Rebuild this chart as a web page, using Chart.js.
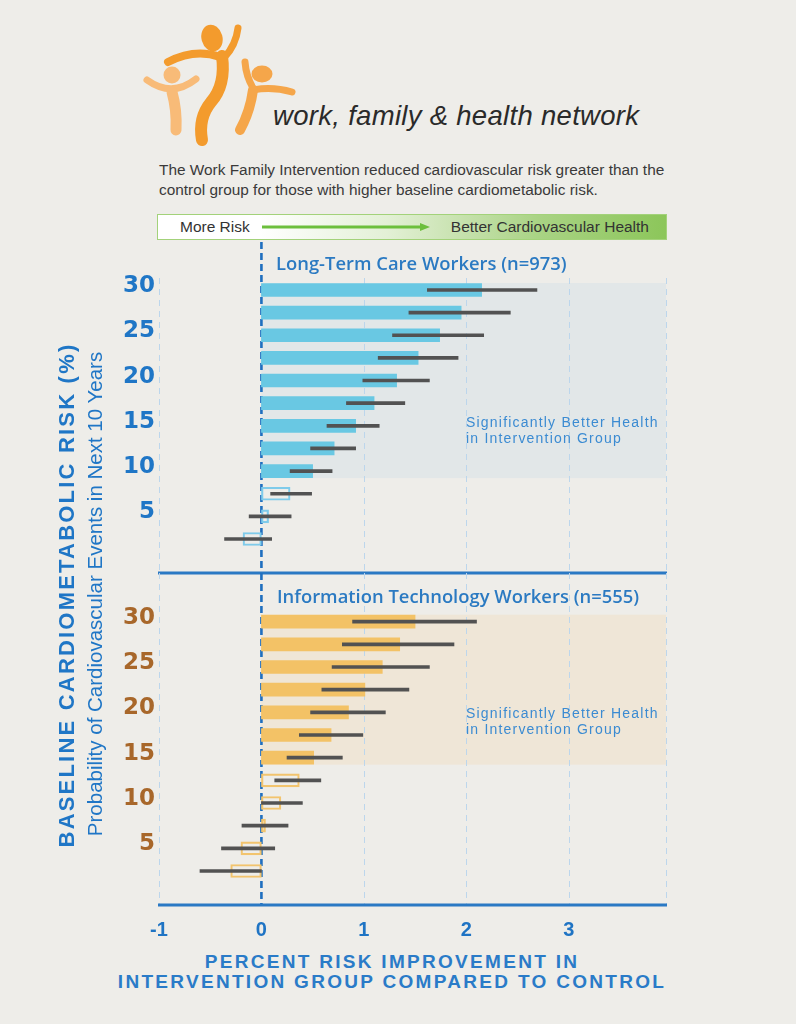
<!DOCTYPE html>
<html>
<head>
<meta charset="utf-8">
<script src="https://cdn.jsdelivr.net/npm/chart.js@4.4.1/dist/chart.umd.min.js"></script>
<style>
  html, body { margin: 0; padding: 0; }
  body { width: 796px; height: 1024px; background: #eeede9; position: relative; overflow: hidden;
         font-family: "Liberation Sans", Arial, sans-serif; }
  .abs { position: absolute; white-space: nowrap; }
  #topWrap { position: absolute; left: 0; top: 240px; width: 796px; height: 336px; }
  #botWrap { position: absolute; left: 0; top: 573px; width: 796px; height: 370px; }
  .brand { left: 273px; top: 100px; font-size: 27.5px; font-style: italic; color: #2a2a2a; letter-spacing: 0.3px; }
  .intro { left: 159px; top: 160px; font-size: 15.4px; line-height: 20px; color: #3a3a3a; }
  .arrowbox { left: 157px; top: 214px; width: 508px; height: 24px; border: 1.5px solid #a3d27a;
              background: linear-gradient(to right, #ffffff 0%, #ffffff 20%, #e3f0d6 45%, #a9d384 75%, #8cc65a 100%); }
  .arrowbox span { position: absolute; top: 3px; font-size: 15.5px; color: #333; }
  .panelTitle { font-family: "Open Sans", sans-serif; font-weight: 600; font-size: 18.4px; color: #2b7ac2; }
  .note { font-size: 14px; line-height: 16px; letter-spacing: 1.2px; color: #3b8bd2; }
  .ytitle { width: 600px; height: 24px; line-height: 24px; text-align: center; transform: rotate(-90deg);
            transform-origin: 50% 50%; color: #1f76c6; }
  .xtitle { left: 92px; width: 600px; top: 952px; text-align: center; font-weight: bold; font-size: 19px;
            line-height: 20px; letter-spacing: 2.3px; color: #2a7bc8; }
</style>
</head>
<body>

<svg class="abs" style="left:0;top:0" width="796" height="150">
  <!-- big figure -->
  <g fill="none" stroke="#f39b2d" stroke-linecap="round">
    <path d="M168 62 Q195 48 220 57" stroke-width="8"/>
    <path d="M224 58 Q236 45 238 28" stroke-width="7"/>
    <path d="M222 56 Q226 85 211 102 Q198 118 202 140" stroke-width="12"/>
  </g>
  <ellipse cx="212" cy="38" rx="10.5" ry="13.5" fill="#f39b2d" transform="rotate(-15 212 38)"/>
  <!-- left figure -->
  <g fill="none" stroke="#f8bb78" stroke-linecap="round">
    <path d="M147 80 Q172 98 196 79" stroke-width="7"/>
    <path d="M172 92 Q177 110 176 130" stroke-width="11"/>
  </g>
  <circle cx="172" cy="75" r="8.5" fill="#f8bb78"/>
  <!-- right figure -->
  <g fill="none" stroke="#f5a64a" stroke-linecap="round">
    <path d="M253 88 Q246 76 245 62" stroke-width="7"/>
    <path d="M253 90 Q272 86 292 92" stroke-width="7"/>
    <path d="M253 90 Q250 112 240 130" stroke-width="10"/>
  </g>
  <ellipse cx="262" cy="74" rx="10.5" ry="8.5" fill="#f5a64a"/>
</svg>

<div class="abs brand">work, family &amp; health network</div>
<div class="abs intro">The Work Family Intervention reduced cardiovascular risk greater than the<br>control group for those with higher baseline cardiometabolic risk.</div>

<div class="abs arrowbox">
  <span style="left:22px">More Risk</span>
  <svg class="abs" style="left:0;top:0" width="508" height="24">
    <line x1="104" y1="12" x2="262" y2="12" stroke="#6cbf3c" stroke-width="3"/>
    <polygon points="262,8 272,12 262,16" fill="#6cbf3c"/>
  </svg>
  <span style="right:17px">Better Cardiovascular Health</span>
</div>

<div id="topWrap"><canvas id="topChart"></canvas></div>
<div id="botWrap"><canvas id="botChart"></canvas></div>

<div class="abs panelTitle" style="left:276px;top:250px">Long-Term Care Workers (n=973)</div>
<div class="abs panelTitle" style="left:277px;top:583px">Information Technology Workers (n=555)</div>
<div class="abs note" style="left:466px;top:414px">Significantly Better Health<br>in Intervention Group</div>
<div class="abs note" style="left:466px;top:705px">Significantly Better Health<br>in Intervention Group</div>

<div class="abs ytitle" style="left:-233px;top:583px;font-weight:bold;font-size:22px;letter-spacing:2.2px">BASELINE CARDIOMETABOLIC RISK (%)</div>
<div class="abs ytitle" style="left:-205px;top:582px;font-size:20.5px">Probability of Cardiovascular Events in Next 10 Years</div>

<div class="abs xtitle">PERCENT RISK IMPROVEMENT IN<br>INTERVENTION GROUP COMPARED TO CONTROL</div>

<script>
const riskLevels = [30, 27.5, 25, 22.5, 20, 17.5, 15, 12.5, 10, 7.5, 5, 2.5];
const riskTicks = [30, 25, 20, 15, 10, 5];
const xTicks = [-1, 0, 1, 2, 3];

// Long-term care workers (n=973)
const ltcImprovement = [2.15, 1.95, 1.74, 1.53, 1.32, 1.10, 0.92, 0.71, 0.50, 0.28, 0.07, -0.18];
const ltcLower = [1.62, 1.44, 1.28, 1.14, 0.99, 0.83, 0.64, 0.48, 0.28, 0.09, -0.12, -0.36];
const ltcUpper = [2.69, 2.43, 2.17, 1.92, 1.64, 1.40, 1.15, 0.92, 0.69, 0.49, 0.29, 0.10];
const ltcSignificant = [true, true, true, true, true, true, true, true, true, false, false, false];

// Information technology workers (n=555)
const itImprovement = [1.50, 1.35, 1.18, 1.01, 0.85, 0.68, 0.51, 0.37, 0.19, 0.04, -0.20, -0.30];
const itLower = [0.89, 0.79, 0.69, 0.59, 0.48, 0.37, 0.25, 0.13, 0.00, -0.19, -0.39, -0.60];
const itUpper = [2.10, 1.88, 1.64, 1.44, 1.21, 0.99, 0.79, 0.58, 0.40, 0.26, 0.13, 0.00];
const itSignificant = [true, true, true, true, true, true, true, false, false, false, false, false];

const BAR_H = 13;

const panelDecor = {
    id: 'panelDecor',
    beforeDatasetsDraw(chart, args, opts) {
        const { ctx, chartArea: a, scales: { x, y } } = chart;
        const z = x.getPixelForValue(0);
        ctx.save();

        // shaded band behind the significant rows
        const last = opts.significant.lastIndexOf(true);
        const yTop = y.getPixelForValue(riskLevels[0]) - BAR_H / 2 - 0.5;
        const yBot = y.getPixelForValue(riskLevels[last]) + BAR_H / 2 + 0.5;
        ctx.fillStyle = opts.bandColor;
        ctx.fillRect(z, yTop, a.right - z, yBot - yTop);

        // light dashed grid
        ctx.strokeStyle = '#bcd6ec';
        ctx.lineWidth = 1;
        ctx.setLineDash([6, 5]);
        xTicks.filter(v => v !== 0).concat([x.max]).forEach(v => {
            const px = Math.round(x.getPixelForValue(v)) + 0.5;
            ctx.beginPath();
            ctx.moveTo(px, a.top);
            ctx.lineTo(px, a.bottom);
            ctx.stroke();
        });

        // zero line
        ctx.strokeStyle = '#1f6fbf';
        ctx.lineWidth = 2.6;
        ctx.setLineDash([7, 4]);
        ctx.beginPath();
        ctx.moveTo(z, opts.zeroTop);
        ctx.lineTo(z, a.bottom);
        ctx.stroke();

        // bottom axis line
        ctx.setLineDash([]);
        ctx.strokeStyle = '#2a79c4';
        ctx.lineWidth = 3;
        ctx.beginPath();
        ctx.moveTo(a.left - 1, a.bottom);
        ctx.lineTo(a.right + 1, a.bottom);
        ctx.stroke();
        ctx.restore();
    }
};

function makePanel(canvasId, cfg) {
    const ctx = document.getElementById(canvasId).getContext('2d');
    return new Chart(ctx, {
        type: 'bar',
        data: {
            datasets: [{
                label: 'CI',
                data: riskLevels.map((r, i) => ({ x: [cfg.lower[i], cfg.upper[i]], y: r })),
                backgroundColor: '#525252',
                barThickness: 3,
                grouped: false,
                order: 1
            }, {
                label: 'Improvement',
                data: riskLevels.map((r, i) => ({ x: cfg.values[i], y: r })),
                backgroundColor: cfg.significant.map(s => s ? cfg.fill : 'rgba(0,0,0,0)'),
                borderColor: cfg.significant.map(s => s ? cfg.fill : cfg.outline),
                borderWidth: cfg.significant.map(s => s ? 0 : 1.5),
                borderSkipped: false,
                barThickness: BAR_H,
                grouped: false,
                order: 2
            }]
        },
        options: {
            indexAxis: 'y',
            responsive: true,
            maintainAspectRatio: false,
            animation: false,
            layout: { padding: cfg.padding },
            plugins: {
                legend: { display: false },
                tooltip: { enabled: false },
                panelDecor: { significant: cfg.significant, bandColor: cfg.band, zeroTop: cfg.zeroTop }
            },
            scales: {
                x: {
                    type: 'linear', min: -1, max: 3.95,
                    display: cfg.showX,
                    afterBuildTicks: s => { s.ticks = xTicks.map(v => ({ value: v })); },
                    afterFit: s => { s.height = cfg.showX ? 38 : 0; s.paddingLeft = 0; s.paddingRight = 0; },
                    grid: { display: false, drawTicks: false },
                    border: { display: false },
                    ticks: { color: '#1f74c4', padding: 13,
                             font: { family: 'Liberation Sans', weight: 'bold', size: 20 } }
                },
                y: {
                    type: 'linear', min: cfg.yMin, max: cfg.yMax, offset: false,
                    afterBuildTicks: s => { s.ticks = riskTicks.map(v => ({ value: v })); },
                    afterFit: s => { s.width = 159; s.paddingTop = 0; s.paddingBottom = 0; },
                    grid: { display: false, drawTicks: false },
                    border: { display: false },
                    ticks: { color: cfg.tickColor, padding: 4, labelOffset: -4,
                             font: { family: 'DejaVu Sans', weight: 'bold', size: 23 } }
                }
            }
        },
        plugins: [panelDecor]
    });
}

makePanel('topChart', {
    values: ltcImprovement, lower: ltcLower, upper: ltcUpper, significant: ltcSignificant,
    fill: '#69c8e3', outline: '#7fcbea', band: '#e2e7e8', tickColor: '#1f76c6',
    yMin: -1.255, yMax: 31.325, showX: false, zeroTop: 2,
    padding: { left: 0, right: 130, top: 38, bottom: 3 }
});

makePanel('botChart', {
    values: itImprovement, lower: itLower, upper: itUpper, significant: itSignificant,
    fill: '#f3c266', outline: '#f2c46e', band: '#efe6d7', tickColor: '#a8672a',
    yMin: -1.25, yMax: 35.37, showX: true, zeroTop: 0,
    padding: { left: 0, right: 130, top: 0, bottom: 0 }
});
</script>
</body>
</html>
